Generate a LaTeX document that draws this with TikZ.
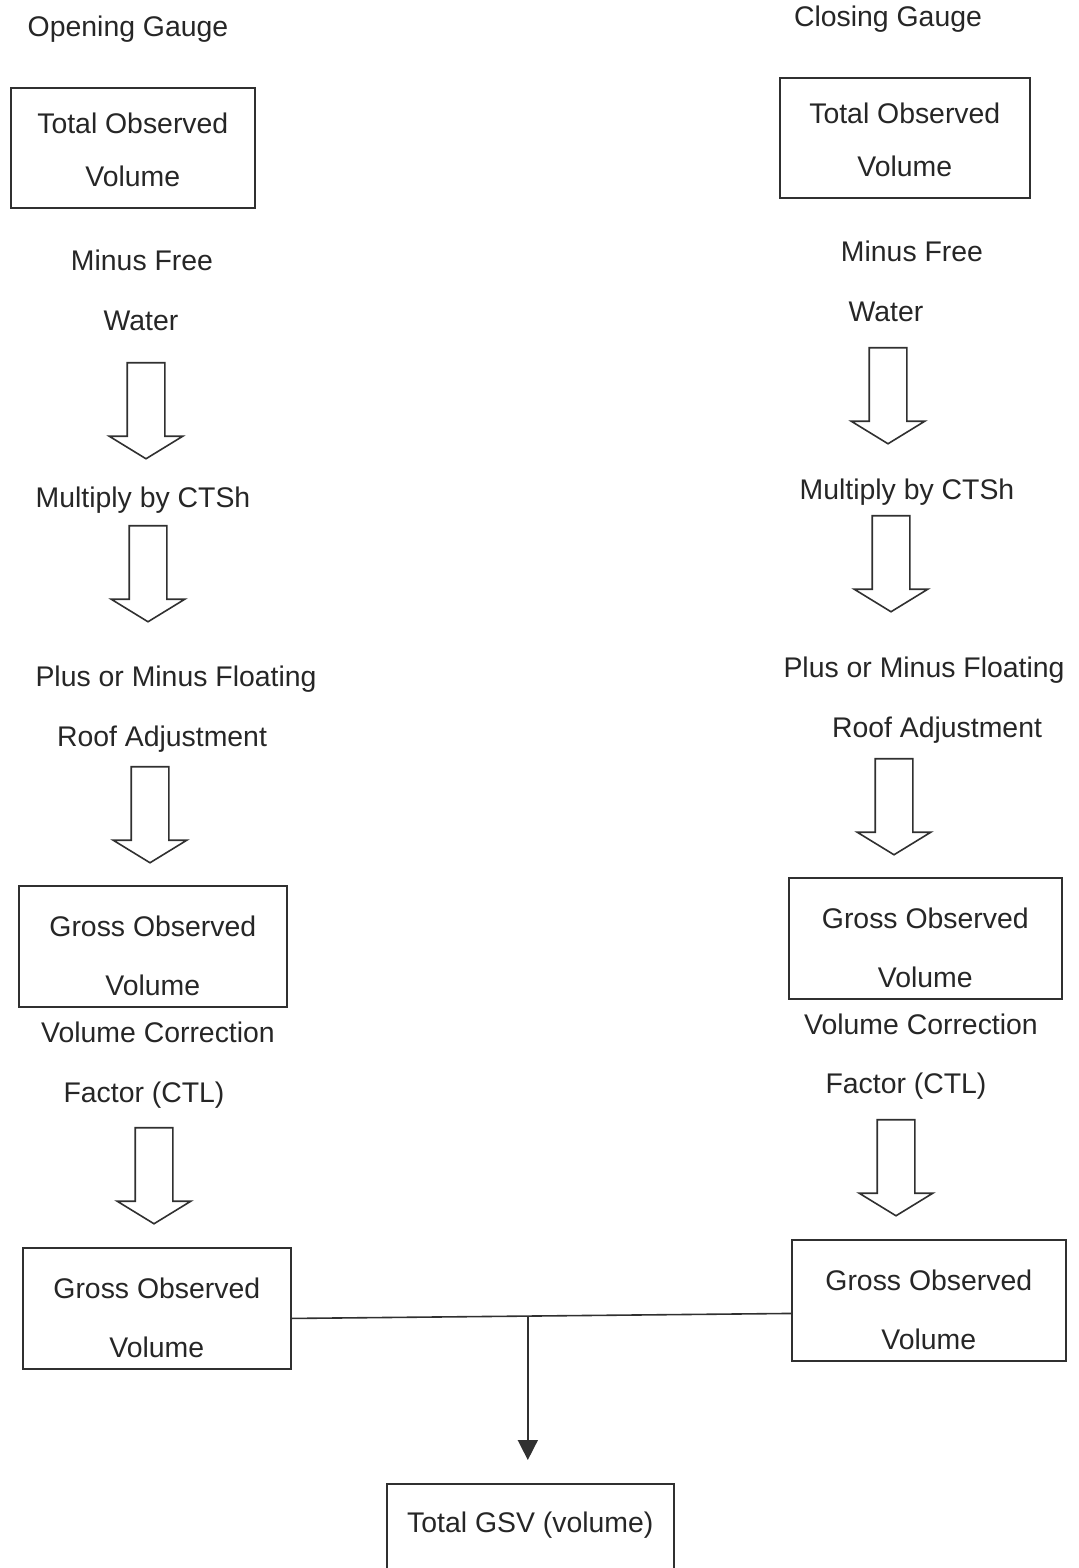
\documentclass[tikz,border=0pt]{standalone}
\usepackage{fontspec}
\setmainfont{Liberation Sans}
\usetikzlibrary{arrows.meta,calc,positioning,shapes.arrows}
\definecolor{GSInk}{HTML}{262626}
\definecolor{GSLine}{HTML}{303030}
\tikzset{
  gsTopBox/.style={
    rectangle, draw=GSLine, line width=0.8pt, align=center, text=GSInk,
    minimum width=#1, inner xsep=0pt, inner ysep=10.5pt, text height=39pt,
    anchor=north west, font=\fontsize{14.2}{26.5}\selectfont
  },
  gsBox/.style={
    rectangle, draw=GSLine, line width=0.8pt, align=center, text=GSInk,
    minimum width=#1, inner xsep=0pt, inner ysep=5.5pt, text height=49.5pt,
    anchor=north west, font=\fontsize{14.2}{29.5}\selectfont
  },
  gsTotal/.style={
    rectangle, draw=GSLine, line width=0.8pt, text=GSInk,
    minimum width=143.5pt, inner xsep=0pt, inner ysep=14.5pt,
    text height=10pt, text depth=60pt, anchor=north west,
    font=\fontsize{14.2}{17}\selectfont
  },
  gsStep/.style={
    anchor=base, inner sep=0pt, text=GSInk, font=\fontsize{14.2}{17}\selectfont
  },
  gsBlock/.style={
    single arrow, draw=GSLine, line width=0.8pt, rotate=-90,
    minimum height=48pt, inner xsep=0pt, inner ysep=9pt,
    single arrow head extend=9pt, single arrow tip angle=117
  },
  gsLink/.style={draw=GSLine, line width=0.8pt},
  gsDrop/.style={-{Triangle[length=10pt, width=10pt]}, draw=GSLine, line width=0.8pt}
}
\begin{document}
\begin{tikzpicture}[x=0.5pt, y=-0.5pt]
  \useasboundingbox (0,0) rectangle (1079,1568);

  % opening gauge
  \node[gsStep] (open) at (128,37) {Opening Gauge};
  \node[gsTopBox=122pt] (otov) at (10,87) {Total Observed\\Volume};
  \node[gsStep] (ofree) at (142,270) {Minus Free};
  \node[gsStep] (owater) at (141,330) {Water};
  \node[gsBlock] (oa1) at (146,405) {};
  \node[gsStep] (octsh) at (143,507) {Multiply by CTSh};
  \node[gsBlock] (oa2) at (148,568) {};
  \node[gsStep] (ofloat) at (176,686) {Plus or Minus Floating};
  \node[gsStep] (oroof) at (162,746) {Roof Adjustment};
  \node[gsBlock] (oa3) at (150,809) {};
  \node[gsBox=134pt] (ogov) at (18,885) {Gross Observed\\Volume};
  \node[gsStep] (ovcf) at (158,1042) {Volume Correction};
  \node[gsStep] (octl) at (144,1102) {Factor (CTL)};
  \node[gsBlock] (oa4) at (154,1170) {};
  \node[gsBox=134pt] (ogov2) at (22,1247) {Gross Observed\\Volume};

  % closing gauge
  \node[gsStep] (close) at (888,27) {Closing Gauge};
  \node[gsTopBox=125pt] (ctov) at (779,77) {Total Observed\\Volume};
  \node[gsStep] (cfree) at (912,261) {Minus Free};
  \node[gsStep] (cwater) at (886,321) {Water};
  \node[gsBlock] (ca1) at (888,390) {};
  \node[gsStep] (cctsh) at (907,499) {Multiply by CTSh};
  \node[gsBlock] (ca2) at (891,558) {};
  \node[gsStep] (cfloat) at (924,677) {Plus or Minus Floating};
  \node[gsStep] (croof) at (937,737) {Roof Adjustment};
  \node[gsBlock] (ca3) at (894,801) {};
  \node[gsBox=136.5pt] (cgov) at (788,877) {Gross Observed\\Volume};
  \node[gsStep] (cvcf) at (921,1034) {Volume Correction};
  \node[gsStep] (cctl) at (906,1093) {Factor (CTL)};
  \node[gsBlock] (ca4) at (896,1162) {};
  \node[gsBox=137pt] (cgov2) at (791,1239) {Gross Observed\\Volume};

  % total
  \node[gsTotal] (gsv) at (386,1483) {Total GSV (volume)};

  \draw[gsLink] ([yshift=-5pt]ogov2.east) -- ([yshift=-6.5pt]cgov2.west);
  \coordinate (join) at ($([yshift=-5pt]ogov2.east)!0.473!([yshift=-6.5pt]cgov2.west)$);
  \draw[gsDrop, shorten >=11.5pt] (join) -- (join |- gsv.north);
\end{tikzpicture}
\end{document}
